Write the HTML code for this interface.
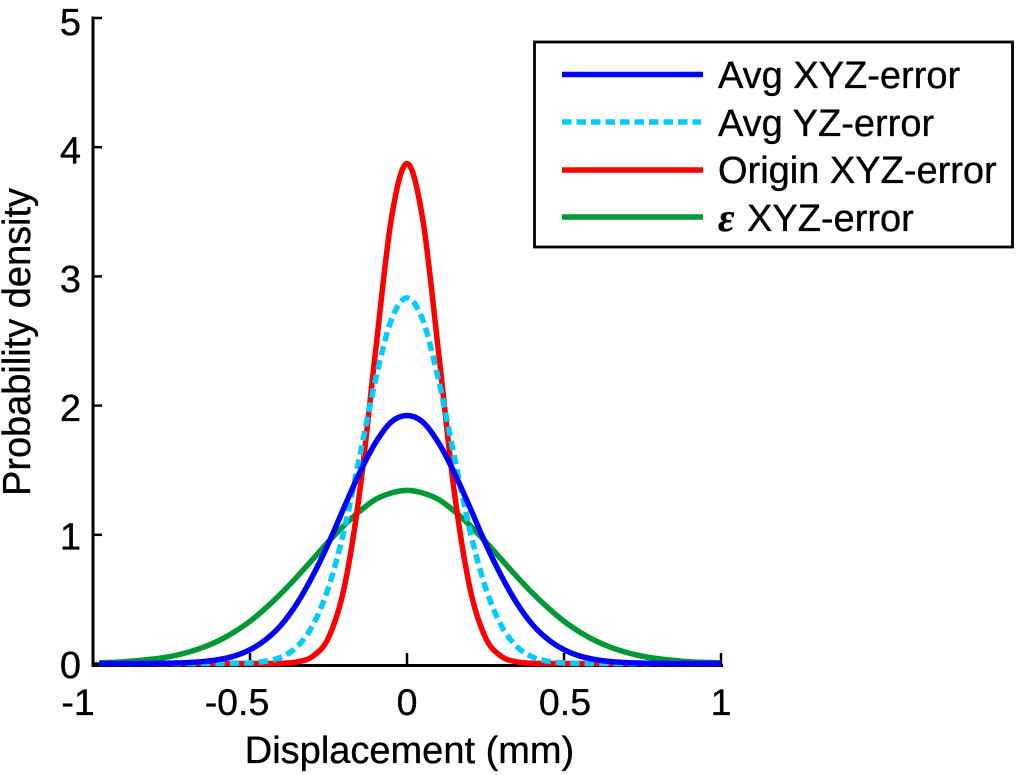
<!DOCTYPE html>
<html>
<head>
<meta charset="utf-8">
<title>Probability density of displacement</title>
<style>
html,body{margin:0;padding:0;background:#fff;}
svg{display:block;font-family:"Liberation Sans",sans-serif;fill:#000;}
text{stroke:#000;stroke-width:0.35px;}
</style>
</head>
<body>
<svg id="chart" width="1024" height="775" viewBox="0 0 1024 775" xmlns="http://www.w3.org/2000/svg">
  <rect x="0" y="0" width="1024" height="775" fill="#fff"/>
  <g id="axes"></g>
  <g id="series" fill="none"></g>
  <text x="409.5" y="763" font-size="38" text-anchor="middle">Displacement (mm)</text>
  <text transform="translate(30 496) rotate(-90)" font-size="38.5" textLength="308" lengthAdjust="spacingAndGlyphs">Probability density</text>
  <g>
    <rect x="534.5" y="42" width="478" height="205" fill="#fff" stroke="#000" stroke-width="2.8"/>
    <g>
      <line x1="562" x2="703" y1="74.5" y2="74.5" stroke="#0000ff" stroke-width="5.5"/>
      <text x="718" y="88" font-size="38">Avg XYZ-error</text>
    </g>
    <g>
      <line x1="562" x2="701" y1="122" y2="122" stroke="#00ccff" stroke-width="5.5" stroke-dasharray="9.5 5"/>
      <text x="718" y="136" font-size="38">Avg YZ-error</text>
    </g>
    <g>
      <line x1="562" x2="703" y1="170" y2="170" stroke="#ff0000" stroke-width="5.5"/>
      <text x="718" y="183" font-size="38">Origin XYZ-error</text>
    </g>
    <g>
      <line x1="562" x2="703" y1="217" y2="217" stroke="#009933" stroke-width="5.5"/>
      <text x="718" y="231" font-size="40" font-weight="bold" font-style="italic" font-family="'Liberation Serif','DejaVu Serif',serif">ε</text>
      <text x="747" y="231" font-size="38">XYZ-error</text>
    </g>
  </g>
</svg>
<script>
const xValues = [-0.98,-0.9,-0.8,-0.75,-0.7,-0.65,-0.6,-0.55,-0.5,-0.45,-0.4,-0.35,-0.3,-0.25,-0.2,-0.15,-0.1,-0.05,0,0.05,0.1,0.15,0.2,0.25,0.3,0.35,0.4,0.45,0.5,0.55,0.6,0.65,0.7,0.75,0.8,0.9,1.0];
const greenValues = [0.005,0.014,0.037,0.056,0.085,0.124,0.176,0.244,0.327,0.429,0.544,0.672,0.807,0.943,1.07,1.18,1.27,1.32,1.34,1.32,1.27,1.18,1.07,0.943,0.807,0.672,0.544,0.429,0.327,0.244,0.176,0.124,0.085,0.056,0.037,0.014,0.005];
const redValues = [0,0,0,0,0,0,0,0,0,0,0.002,0.012,0.056,0.2,0.588,1.34,2.42,3.44,3.87,3.44,2.42,1.34,0.588,0.2,0.056,0.012,0.002,0,0,0,0,0,0,0,0,0,0];
const cyanValues = [0,0,0,0,0,0,0,0.001,0.005,0.017,0.05,0.13,0.295,0.588,1.035,1.61,2.2,2.66,2.83,2.66,2.2,1.61,1.035,0.588,0.295,0.13,0.05,0.017,0.005,0.001,0,0,0,0,0,0,0];
const blueValues = [0,0,0.001,0.003,0.007,0.015,0.03,0.058,0.107,0.185,0.3,0.466,0.68,0.93,1.21,1.48,1.71,1.87,1.92,1.87,1.71,1.48,1.21,0.93,0.68,0.466,0.3,0.185,0.107,0.058,0.03,0.015,0.007,0.003,0.001,0,0];
const xTicks = [-1,-0.5,0,0.5,1];
const yTicks = [0,1,2,3,4,5];
const xTickLabels = ['-1','-0.5','0','0.5','1'];
const yTickLabels = ['0','1','2','3','4','5'];

const NS = 'http://www.w3.org/2000/svg';
const xScale = v => 407 + 314 * v;
const yScale = v => 663.5 - 129.2 * v;
const yLabelBase = v => 678 - 128.6 * v;
const xLabelPos = v => xScale(v) + (v === -1 ? -15 : v < 0 ? -13 : v > 0 && v < 1 ? 1 : 0);

function make(tag, attrs) {
  const el = document.createElementNS(NS, tag);
  for (const k in attrs) el.setAttribute(k, attrs[k]);
  return el;
}

function smoothPath(xs, ys) {
  const p = xs.map((x, i) => [xScale(x), yScale(ys[i])]);
  let d = 'M' + p[0][0].toFixed(2) + ' ' + p[0][1].toFixed(2);
  for (let i = 0; i < p.length - 1; i++) {
    const a = p[Math.max(i - 1, 0)], b = p[i], c = p[i + 1], e = p[Math.min(i + 2, p.length - 1)];
    const dx = (c[0] - b[0]) / 3;
    const s1 = (c[1] - a[1]) / ((c[0] - a[0]) || 1);
    const s2 = (e[1] - b[1]) / ((e[0] - b[0]) || 1);
    d += 'C' + (b[0] + dx).toFixed(2) + ' ' + (b[1] + s1 * dx).toFixed(2) + ' ' +
         (c[0] - dx).toFixed(2) + ' ' + (c[1] - s2 * dx).toFixed(2) + ' ' +
         c[0].toFixed(2) + ' ' + c[1].toFixed(2);
  }
  return d;
}

const axes = document.getElementById('axes');

const xAxisLine = make('line', {x1: 93, x2: 723, y1: 665.5, y2: 665.5, stroke: '#000', 'stroke-width': 3});


axes.appendChild(xAxisLine);

const yAxisLine = make('line', {x1: 93, x2: 93, y1: 16.5, y2: 667, stroke: '#000', 'stroke-width': 3});


axes.appendChild(yAxisLine);

xTicks.forEach((v, i) => {
  const px = xScale(v);
  const tick = make('line', {x1: px, x2: px, y1: 653, y2: 665, stroke: '#000', 'stroke-width': 2.5});
  
  
  axes.appendChild(tick);
  const label = make('text', {x: xLabelPos(v), y: 715, 'font-size': 37.5, 'text-anchor': 'middle'});
  label.textContent = xTickLabels[i];
  
  
  axes.appendChild(label);
});

yTicks.forEach((v, i) => {
  const py = yScale(v) + (v === 0 ? 0 : 0.5);
  const tick = make('line', {x1: 93, x2: 102, y1: py, y2: py, stroke: '#000', 'stroke-width': 2.5});
  
  
  axes.appendChild(tick);
  const label = make('text', {x: 81, y: yLabelBase(v), 'font-size': 38, 'text-anchor': 'end'});
  label.textContent = yTickLabels[i];
  
  
  axes.appendChild(label);
});

const seriesGroup = document.getElementById('series');

const greenLine = make('path', {d: smoothPath(xValues, greenValues), stroke: '#009933', 'stroke-width': 5.5});


seriesGroup.appendChild(greenLine);

const redLine = make('path', {d: smoothPath(xValues, redValues), stroke: '#ff0000', 'stroke-width': 5.5});


seriesGroup.appendChild(redLine);

const cyanLine = make('path', {d: smoothPath(xValues, cyanValues), stroke: '#00ccff', 'stroke-width': 5.5, 'stroke-dasharray': '9.5 5'});


seriesGroup.appendChild(cyanLine);

const blueLine = make('path', {d: smoothPath(xValues, blueValues), stroke: '#0000ff', 'stroke-width': 5.5});


seriesGroup.appendChild(blueLine);
</script>
</body>
</html>
